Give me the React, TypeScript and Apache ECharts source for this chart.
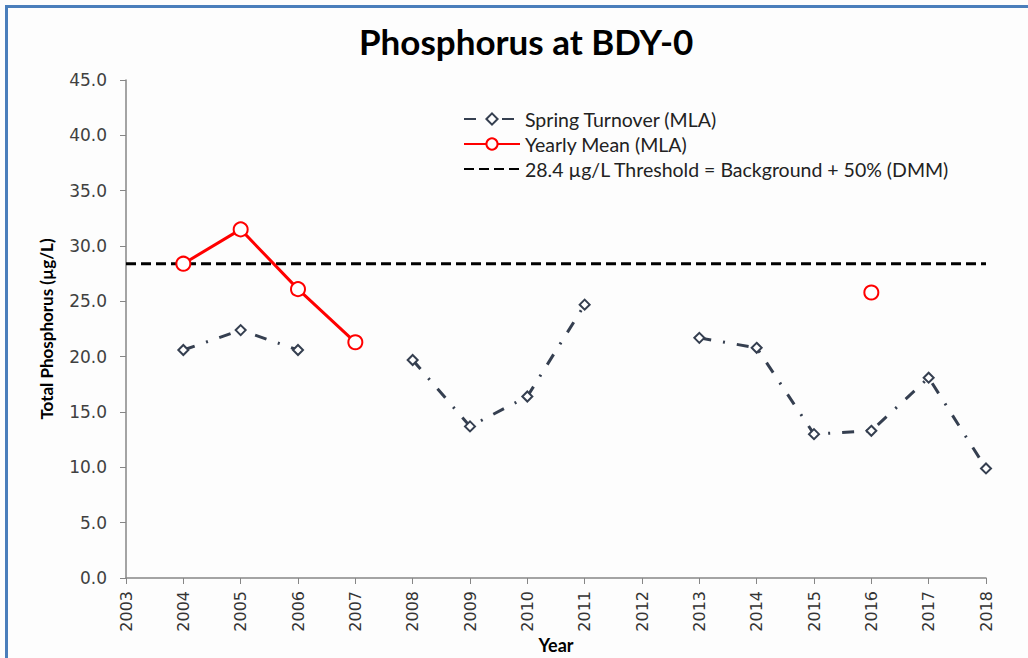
import React, { useEffect, useRef } from "react";
import * as echarts from "echarts";

const years = ["2003","2004","2005","2006","2007","2008","2009","2010","2011","2012","2013","2014","2015","2016","2017","2018"];
const springTurnover = [null, 20.6, 22.4, 20.6, null, 19.7, 13.7, 16.4, 24.7, null, 21.7, 20.8, 13.0, 13.3, 18.1, 9.9];
const yearlyMean = [null, 28.4, 31.5, 26.1, 21.3, null, null, null, null, null, null, null, null, 25.8, null, null];
const thresholdValue = 28.4;
const threshold = years.map(() => thresholdValue);

const seriesNames = [
  "Spring Turnover (MLA)",
  "Yearly Mean (MLA)",
  "28.4 \u00b5g/L Threshold = Background + 50% (DMM)",
];

export default function App() {
  const ref = useRef<HTMLDivElement>(null);
  useEffect(() => {
    if (!ref.current) return;
    const chart = echarts.init(ref.current, null, { renderer: "svg" });
    chart.setOption({
      animation: false,
      backgroundColor: "#fdfdfd",
      title: {
        text: "Phosphorus at BDY-0",
        left: 354,
        top: 18,
        textStyle: { fontFamily: "Lato", fontWeight: "bold", fontSize: 35, color: "#000" },
      },
      legend: {
        orient: "vertical",
        left: 458,
        top: 104,
        itemWidth: 56,
        itemHeight: 14,
        itemGap: 5,
        textStyle: { fontFamily: "Lato", fontSize: 19.5, lineHeight: 20, color: "#222" },
        data: seriesNames,
      },
      grid: { left: 126, right: 42, top: 80, bottom: 80, outerBoundsMode: "none", containLabel: false },
      xAxis: {
        type: "category",
        data: years,
        boundaryGap: false,
        name: "Year",
        nameLocation: "middle",
        nameGap: 58,
        nameMoveOverlap: false,
        nameTextStyle: { fontFamily: "Lato", fontWeight: "bold", fontSize: 18, color: "#000" },
        axisLine: { lineStyle: { color: "#868686", width: 1.5 } },
        axisTick: { alignWithLabel: true, length: 6, lineStyle: { color: "#868686" } },
        axisLabel: { rotate: 90, interval: 0, fontFamily: "DejaVu Sans", fontSize: 16, color: "#333", margin: 13 },
        splitLine: { show: false },
      },
      yAxis: {
        type: "value",
        min: 0,
        max: 45,
        interval: 5,
        name: "Total Phosphorus (\u00b5g/L)",
        nameLocation: "middle",
        nameGap: 71,
        nameMoveOverlap: false,
        nameTextStyle: { fontFamily: "Lato", fontWeight: "bold", fontSize: 17, color: "#000" },
        axisLine: { show: true, lineStyle: { color: "#868686", width: 1.5 } },
        axisTick: { show: true, length: 6, lineStyle: { color: "#868686" } },
        axisLabel: {
          fontFamily: "DejaVu Sans",
          fontSize: 17,
          color: "#404040",
          margin: 19,
          formatter: (v: number) => v.toFixed(1),
        },
        splitLine: { show: false },
      },
      series: [
        {
          name: seriesNames[0],
          type: "line",
          data: springTurnover,
          symbol: "emptyDiamond",
          symbolSize: 10,
          color: "#353f50",
          itemStyle: { color: "#353f50", borderWidth: 1.5 },
          lineStyle: { color: "#353f50", width: 3, type: [12, 12, 2, 12], cap: "butt" },
          z: 3,
        },
        {
          name: seriesNames[1],
          type: "line",
          data: yearlyMean,
          symbol: "emptyCircle",
          symbolSize: 14,
          color: "#ff0000",
          itemStyle: { color: "#ff0000", borderWidth: 2 },
          lineStyle: { color: "#ff0000", width: 3 },
          z: 4,
        },
        {
          name: seriesNames[2],
          type: "line",
          data: threshold,
          symbol: "none",
          color: "#000",
          itemStyle: { opacity: 0 },
          lineStyle: { color: "#000", width: 3, type: [10, 5] },
          z: 2,
        },
      ],
      graphic: [
        { type: "rect", left: 5, top: 5, shape: { width: 1023, height: 3 }, style: { fill: "#4a7ebb" } },
        { type: "rect", left: 5, top: 5, shape: { width: 3, height: 653 }, style: { fill: "#4a7ebb" } },
      ],
    });
    return () => chart.dispose();
  }, []);
  return (
    <div
      ref={ref}
      style={{ position: "fixed", left: 0, top: 0, width: 1028, height: 658 }}
    />
  );
}
